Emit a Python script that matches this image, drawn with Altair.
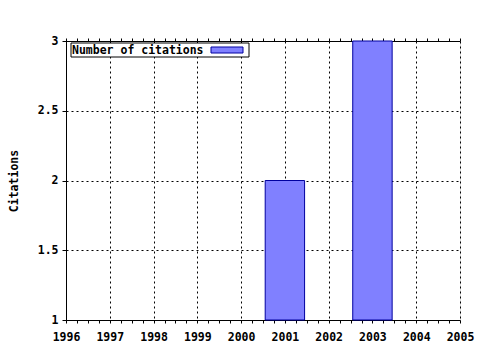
import altair as alt
import pandas as pd

years = [2001, 2003]
citations = [2, 3]
series_name = "Number of citations"

x_major = list(range(1996, 2006))
x_ticks = [y + q / 4 for y in range(1996, 2005) for q in range(4)] + [2005]
y_ticks = [1, 1.5, 2, 2.5, 3]

FONT = "DejaVu Sans Mono"
FS = 11.5
FILL = "#8080ff"
EDGE = "#0000a0"
DASH = [2, 3]

df = pd.DataFrame({"year": years, "citations": citations})
leg_df = pd.DataFrame({"series": [series_name]})

xscale = alt.Scale(domain=[1996, 2005], nice=False, zero=False)

bars = alt.Chart(df).mark_rect(stroke=EDGE, strokeWidth=1, fill=FILL).transform_calculate(
    x0="datum.year - 0.45", x1="datum.year + 0.45"
).encode(
    x=alt.X(
        "x0:Q",
        scale=xscale,
        axis=alt.Axis(
            orient="bottom",
            values=x_ticks,
            title=None,
            tickSize=3,
            tickColor="black",
            domainColor="black",
            labelExpr="datum.value % 1 === 0 ? datum.value : ''",
            labelFont=FONT,
            labelFontSize=FS,
            labelFontWeight="bold",
            labelColor="black",
            labelPadding=8,
            labelFlush=False,
            labelOverlap=False,
            grid=True,
            gridColor="black",
            gridDash=DASH,
            gridOpacity={"condition": {"test": "datum.value % 1 === 0", "value": 1}, "value": 0},
        ),
    ),
    x2="x1:Q",
    y=alt.Y(
        "citations:Q",
        scale=alt.Scale(domain=[1, 3], nice=False, zero=False),
        axis=alt.Axis(
            values=y_ticks,
            title="Citations",
            format="~g",
            tickSize=4,
            tickColor="black",
            domainColor="black",
            labelFont=FONT,
            labelFontSize=FS,
            labelFontWeight="bold",
            labelColor="black",
            labelPadding=4,
            grid=True,
            gridColor="black",
            gridDash=DASH,
            titleFont=FONT,
            titleFontSize=FS,
            titleFontWeight="bold",
            titleColor="black",
            titleAngle=270,
            titleX=-52,
            titleY=139.5,
            titleAlign="center",
            titleBaseline="middle",
        ),
    ),
    y2=alt.datum(1),
)

top_ticks = alt.Chart(df).mark_point(opacity=0).encode(
    x=alt.X(
        "year:Q",
        scale=xscale,
        axis=alt.Axis(
            orient="top",
            values=x_ticks,
            title=None,
            labels=False,
            tickSize=3,
            tickColor="black",
            domainColor="black",
            grid=False,
        ),
    ),
)

leg_box = alt.Chart(leg_df).mark_rect(fill="white", stroke="black", strokeWidth=1).encode(
    x=alt.value(5), x2=alt.value(183), y=alt.value(2), y2=alt.value(16)
)
leg_text = alt.Chart(leg_df).mark_text(
    align="left", baseline="middle", font=FONT, fontSize=FS, fontWeight="bold", color="black"
).encode(x=alt.value(6), y=alt.value(9.5), text="series:N")
leg_swatch = alt.Chart(leg_df).mark_rect(fill=FILL, stroke=EDGE, strokeWidth=1).encode(
    x=alt.value(145), x2=alt.value(177), y=alt.value(6), y2=alt.value(12)
)

chart = alt.layer(bars, top_ticks, leg_box, leg_text, leg_swatch).resolve_axis(
    x="independent"
).properties(
    width=394,
    height=279,
    autosize=alt.AutoSizeParams(type="none"),
    padding={"left": 66, "top": 41, "right": 20, "bottom": 30},
).configure_view(stroke="black", strokeWidth=1).configure(background="white")

chart.save("out.html", embed_options={"renderer": "svg", "actions": False})
